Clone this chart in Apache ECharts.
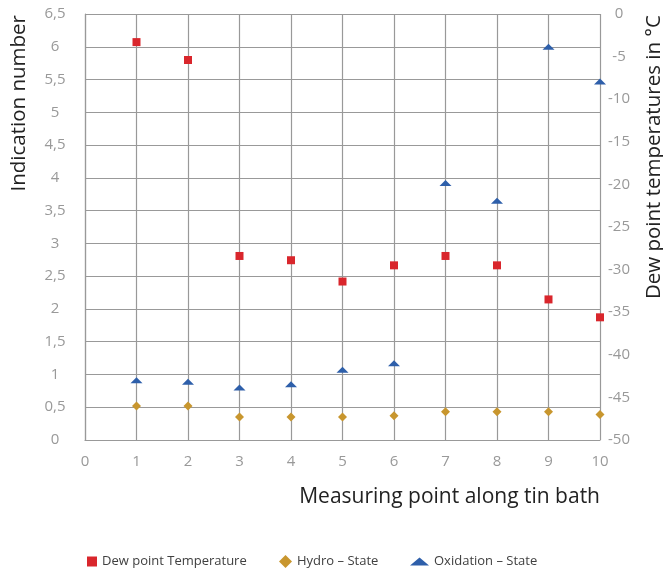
<!DOCTYPE html>
<html><head><meta charset="utf-8">
<script src="https://cdn.jsdelivr.net/npm/echarts@6/dist/echarts.min.js"></script>
<style>html,body{margin:0;padding:0;background:#fff}#c{width:663px;height:569px}</style>
</head><body><div id="c"></div>
<script>
const measuringPoints = [1, 2, 3, 4, 5, 6, 7, 8, 9, 10];
const dewPointTemperature = [-3.3, -5.4, -28.4, -28.9, -31.4, -29.5, -28.4, -29.5, -33.5, -35.6];
const hydroState = [0.52, 0.52, 0.35, 0.35, 0.35, 0.37, 0.43, 0.43, 0.43, 0.39];
const oxidationState = [0.91, 0.89, 0.80, 0.85, 1.07, 1.17, 3.92, 3.65, 6.0, 5.47];
const seriesNames = ['Dew point Temperature', 'Hydro – State', 'Oxidation – State'];

const FONT = 'Open Sans';
const pair = (ys) => measuringPoints.map((x, i) => [x, ys[i]]);
const chart = echarts.init(document.getElementById('c'), null, {renderer: 'canvas'});
const legendBase = {top: 550, itemGap: 7, symbolKeepAspect: false,
  textStyle: {fontFamily: FONT, fontSize: 13, color: '#404040'}, selectedMode: false};
chart.setOption({
  animation: false,
  grid: {left: 85, right: 63, top: 14, bottom: 129},
  legend: [
    Object.assign({}, legendBase, {left: 82, data: [seriesNames[0]], itemWidth: 10, itemHeight: 10}),
    Object.assign({}, legendBase, {left: 274, data: [seriesNames[1]], itemWidth: 13, itemHeight: 13}),
    Object.assign({}, legendBase, {left: 405, data: [seriesNames[2]], itemWidth: 19, itemHeight: 8})
  ],
  xAxis: {
    type: 'value', min: 0, max: 10, interval: 1,
    name: 'Measuring point along tin bath', nameLocation: 'end', nameGap: 0,
    nameTextStyle: {fontFamily: FONT, fontSize: 21, color: '#222', align: 'right', verticalAlign: 'top', padding: [47, 0, 0, 0]},
    axisLine: {show: true, lineStyle: {color: '#999', width: 1.2}},
    axisTick: {show: false},
    axisLabel: {fontFamily: FONT, fontSize: 15, color: '#999', margin: 14},
    splitLine: {show: true, lineStyle: {color: '#999', width: 1.2}}
  },
  yAxis: [
    {
      type: 'value', min: 0, max: 6.5, interval: 0.5, position: 'left',
      axisLine: {show: true, lineStyle: {color: '#999', width: 1.2}},
      axisTick: {show: false},
      axisLabel: {fontFamily: FONT, fontSize: 15, color: '#999', margin: 30, align: 'center',
        formatter: (v) => String(v).replace('.', ',')},
      splitLine: {show: true, lineStyle: {color: '#999', width: 1.2}}
    },
    {
      type: 'value', min: -50, max: 0, interval: 5, position: 'right',
      axisLine: {show: false},
      axisTick: {show: false},
      axisLabel: {fontFamily: FONT, fontSize: 15, color: '#999', margin: 19, align: 'center'},
      splitLine: {show: false}
    }
  ],
  graphic: [
    {type: 'text', x: 19, y: 15, rotation: Math.PI / 2,
      style: {text: 'Indication number', fontFamily: FONT, fontSize: 20.5, fill: '#222', align: 'right', verticalAlign: 'middle'}},
    {type: 'text', x: 654, y: 15, rotation: Math.PI / 2,
      style: {text: 'Dew point temperatures in °C', fontFamily: FONT, fontSize: 20.5, fill: '#222', align: 'right', verticalAlign: 'middle'}}
  ],
  series: [
    {name: seriesNames[0], type: 'scatter', yAxisIndex: 1, symbol: 'rect', symbolSize: 8,
      itemStyle: {color: '#d9262c', opacity: 1}, data: pair(dewPointTemperature), z: 3},
    {name: seriesNames[1], type: 'scatter', yAxisIndex: 0, symbol: 'diamond', symbolSize: 9,
      itemStyle: {color: '#c8962e', opacity: 1}, data: pair(hydroState), z: 3},
    {name: seriesNames[2], type: 'scatter', yAxisIndex: 0, symbol: 'triangle', symbolSize: [12, 6],
      itemStyle: {color: '#2e5faa', opacity: 1}, data: pair(oxidationState), z: 3}
  ]
});
</script></body></html>
